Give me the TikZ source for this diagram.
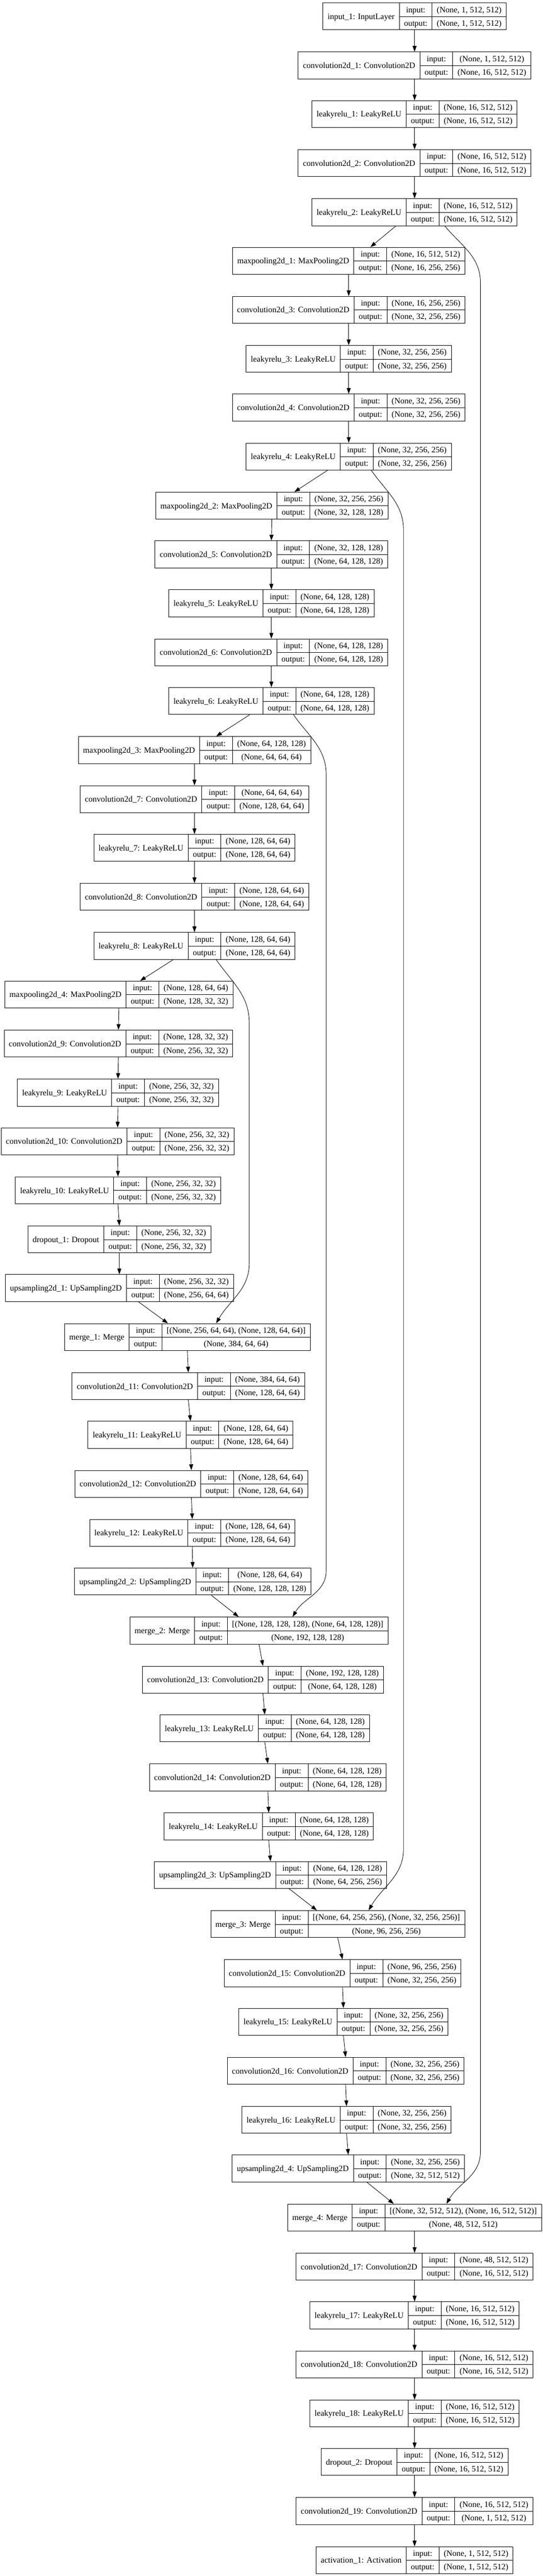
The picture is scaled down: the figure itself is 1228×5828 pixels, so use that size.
\documentclass[tikz,border=0pt]{standalone}
\usepackage{fontspec}
\setmainfont{Liberation Serif}
\usetikzlibrary{arrows.meta}
\setlength{\arrayrulewidth}{1pt}
\setlength{\tabcolsep}{10.67pt}

\begin{document}
\begin{tikzpicture}[x=1pt, y=-1pt,
    layer/.style={draw, line width=1pt, inner sep=0pt, anchor=north,
        font=\fontsize{18.67}{22}\selectfont},
    arr/.style={line width=1pt, -{Triangle[length=13pt,width=9pt]}}]
    \def\rs{\rule[-9pt]{0pt}{30.5pt}}
    \def\rec#1#2#3{\begin{tabular}{c|c|c}\raisebox{-15.5pt}[0pt][0pt]{#1}\rs & input: & #2\\ \cline{2-3}
        \rs & output: & #3\end{tabular}}
    \fill[white] (0,0) rectangle (1228,5828);
    % encoder
    \node[layer] (input1) at (938,6) {\rec{input\_1: InputLayer}{(None, 1, 512, 512)}{(None, 1, 512, 512)}};
    \node[layer] (conv1) at (938,117) {\rec{convolution2d\_1: Convolution2D}{(None, 1, 512, 512)}{(None, 16, 512, 512)}};
    \node[layer] (lrelu1) at (938,227) {\rec{leakyrelu\_1: LeakyReLU}{(None, 16, 512, 512)}{(None, 16, 512, 512)}};
    \node[layer] (conv2) at (938,338) {\rec{convolution2d\_2: Convolution2D}{(None, 16, 512, 512)}{(None, 16, 512, 512)}};
    \node[layer] (lrelu2) at (938,449) {\rec{leakyrelu\_2: LeakyReLU}{(None, 16, 512, 512)}{(None, 16, 512, 512)}};
    \node[layer] (pool1) at (789,559) {\rec{maxpooling2d\_1: MaxPooling2D}{(None, 16, 512, 512)}{(None, 16, 256, 256)}};
    \node[layer] (conv3) at (789,670) {\rec{convolution2d\_3: Convolution2D}{(None, 16, 256, 256)}{(None, 32, 256, 256)}};
    \node[layer] (lrelu3) at (789,781) {\rec{leakyrelu\_3: LeakyReLU}{(None, 32, 256, 256)}{(None, 32, 256, 256)}};
    \node[layer] (conv4) at (789,891) {\rec{convolution2d\_4: Convolution2D}{(None, 32, 256, 256)}{(None, 32, 256, 256)}};
    \node[layer] (lrelu4) at (789,1002) {\rec{leakyrelu\_4: LeakyReLU}{(None, 32, 256, 256)}{(None, 32, 256, 256)}};
    \node[layer] (pool2) at (615,1113) {\rec{maxpooling2d\_2: MaxPooling2D}{(None, 32, 256, 256)}{(None, 32, 128, 128)}};
    \node[layer] (conv5) at (614,1223) {\rec{convolution2d\_5: Convolution2D}{(None, 32, 128, 128)}{(None, 64, 128, 128)}};
    \node[layer] (lrelu5) at (614,1334) {\rec{leakyrelu\_5: LeakyReLU}{(None, 64, 128, 128)}{(None, 64, 128, 128)}};
    \node[layer] (conv6) at (614,1445) {\rec{convolution2d\_6: Convolution2D}{(None, 64, 128, 128)}{(None, 64, 128, 128)}};
    \node[layer] (lrelu6) at (614,1555) {\rec{leakyrelu\_6: LeakyReLU}{(None, 64, 128, 128)}{(None, 64, 128, 128)}};
    \node[layer] (pool3) at (440,1666) {\rec{maxpooling2d\_3: MaxPooling2D}{(None, 64, 128, 128)}{(None, 64, 64, 64)}};
    \node[layer] (conv7) at (440,1777) {\rec{convolution2d\_7: Convolution2D}{(None, 64, 64, 64)}{(None, 128, 64, 64)}};
    \node[layer] (lrelu7) at (440,1887) {\rec{leakyrelu\_7: LeakyReLU}{(None, 128, 64, 64)}{(None, 128, 64, 64)}};
    \node[layer] (conv8) at (440,1998) {\rec{convolution2d\_8: Convolution2D}{(None, 128, 64, 64)}{(None, 128, 64, 64)}};
    \node[layer] (lrelu8) at (440,2109) {\rec{leakyrelu\_8: LeakyReLU}{(None, 128, 64, 64)}{(None, 128, 64, 64)}};
    \node[layer] (pool4) at (269,2219) {\rec{maxpooling2d\_4: MaxPooling2D}{(None, 128, 64, 64)}{(None, 128, 32, 32)}};
    \node[layer] (conv9) at (268,2330) {\rec{convolution2d\_9: Convolution2D}{(None, 128, 32, 32)}{(None, 256, 32, 32)}};
    \node[layer] (lrelu9) at (267,2441) {\rec{leakyrelu\_9: LeakyReLU}{(None, 256, 32, 32)}{(None, 256, 32, 32)}};
    \node[layer] (conv10) at (266,2551) {\rec{convolution2d\_10: Convolution2D}{(None, 256, 32, 32)}{(None, 256, 32, 32)}};
    \node[layer] (lrelu10) at (267,2662) {\rec{leakyrelu\_10: LeakyReLU}{(None, 256, 32, 32)}{(None, 256, 32, 32)}};
    \node[layer] (drop1) at (270,2773) {\rec{dropout\_1: Dropout}{(None, 256, 32, 32)}{(None, 256, 32, 32)}};
    % decoder
    \node[layer] (up1) at (270,2883) {\rec{upsampling2d\_1: UpSampling2D}{(None, 256, 32, 32)}{(None, 256, 64, 64)}};
    \node[layer] (merge1) at (424,2994) {\rec{merge\_1: Merge}{[(None, 256, 64, 64), (None, 128, 64, 64)]}{(None, 384, 64, 64)}};
    \node[layer] (conv11) at (426,3105) {\rec{convolution2d\_11: Convolution2D}{(None, 384, 64, 64)}{(None, 128, 64, 64)}};
    \node[layer] (lrelu11) at (431,3215) {\rec{leakyrelu\_11: LeakyReLU}{(None, 128, 64, 64)}{(None, 128, 64, 64)}};
    \node[layer] (conv12) at (433,3326) {\rec{convolution2d\_12: Convolution2D}{(None, 128, 64, 64)}{(None, 128, 64, 64)}};
    \node[layer] (lrelu12) at (435,3437) {\rec{leakyrelu\_12: LeakyReLU}{(None, 128, 64, 64)}{(None, 128, 64, 64)}};
    \node[layer] (up2) at (436,3547) {\rec{upsampling2d\_2: UpSampling2D}{(None, 128, 64, 64)}{(None, 128, 128, 128)}};
    \node[layer] (merge2) at (586,3658) {\rec{merge\_2: Merge}{[(None, 128, 128, 128), (None, 64, 128, 128)]}{(None, 192, 128, 128)}};
    \node[layer] (conv13) at (595,3769) {\rec{convolution2d\_13: Convolution2D}{(None, 192, 128, 128)}{(None, 64, 128, 128)}};
    \node[layer] (lrelu13) at (599,3879) {\rec{leakyrelu\_13: LeakyReLU}{(None, 64, 128, 128)}{(None, 64, 128, 128)}};
    \node[layer] (conv14) at (606,3990) {\rec{convolution2d\_14: Convolution2D}{(None, 64, 128, 128)}{(None, 64, 128, 128)}};
    \node[layer] (lrelu14) at (608,4101) {\rec{leakyrelu\_14: LeakyReLU}{(None, 64, 128, 128)}{(None, 64, 128, 128)}};
    \node[layer] (up3) at (612,4211) {\rec{upsampling2d\_3: UpSampling2D}{(None, 64, 128, 128)}{(None, 64, 256, 256)}};
    \node[layer] (merge3) at (764,4322) {\rec{merge\_3: Merge}{[(None, 64, 256, 256), (None, 32, 256, 256)]}{(None, 96, 256, 256)}};
    \node[layer] (conv15) at (775,4433) {\rec{convolution2d\_15: Convolution2D}{(None, 96, 256, 256)}{(None, 32, 256, 256)}};
    \node[layer] (lrelu15) at (777,4543) {\rec{leakyrelu\_15: LeakyReLU}{(None, 32, 256, 256)}{(None, 32, 256, 256)}};
    \node[layer] (conv16) at (782,4654) {\rec{convolution2d\_16: Convolution2D}{(None, 32, 256, 256)}{(None, 32, 256, 256)}};
    \node[layer] (lrelu16) at (784,4765) {\rec{leakyrelu\_16: LeakyReLU}{(None, 32, 256, 256)}{(None, 32, 256, 256)}};
    \node[layer] (up4) at (788,4875) {\rec{upsampling2d\_4: UpSampling2D}{(None, 32, 256, 256)}{(None, 32, 512, 512)}};
    \node[layer] (merge4) at (938,4986) {\rec{merge\_4: Merge}{[(None, 32, 512, 512), (None, 16, 512, 512)]}{(None, 48, 512, 512)}};
    \node[layer] (conv17) at (938,5097) {\rec{convolution2d\_17: Convolution2D}{(None, 48, 512, 512)}{(None, 16, 512, 512)}};
    \node[layer] (lrelu17) at (938,5207) {\rec{leakyrelu\_17: LeakyReLU}{(None, 16, 512, 512)}{(None, 16, 512, 512)}};
    \node[layer] (conv18) at (938,5318) {\rec{convolution2d\_18: Convolution2D}{(None, 16, 512, 512)}{(None, 16, 512, 512)}};
    \node[layer] (lrelu18) at (938,5429) {\rec{leakyrelu\_18: LeakyReLU}{(None, 16, 512, 512)}{(None, 16, 512, 512)}};
    \node[layer] (drop2) at (938,5539) {\rec{dropout\_2: Dropout}{(None, 16, 512, 512)}{(None, 16, 512, 512)}};
    \node[layer] (conv19) at (938,5650) {\rec{convolution2d\_19: Convolution2D}{(None, 16, 512, 512)}{(None, 1, 512, 512)}};
    \node[layer] (act1) at (938,5761) {\rec{activation\_1: Activation}{(None, 1, 512, 512)}{(None, 1, 512, 512)}};
    % straight arrows
    \draw[arr] (input1.south) -- (conv1.north);
    \draw[arr] (conv1.south) -- (lrelu1.north);
    \draw[arr] (lrelu1.south) -- (conv2.north);
    \draw[arr] (conv2.south) -- (lrelu2.north);
    \draw[arr] (pool1.south) -- (conv3.north);
    \draw[arr] (conv3.south) -- (lrelu3.north);
    \draw[arr] (lrelu3.south) -- (conv4.north);
    \draw[arr] (conv4.south) -- (lrelu4.north);
    \draw[arr] (pool2.south) -- (conv5.north);
    \draw[arr] (conv5.south) -- (lrelu5.north);
    \draw[arr] (lrelu5.south) -- (conv6.north);
    \draw[arr] (conv6.south) -- (lrelu6.north);
    \draw[arr] (pool3.south) -- (conv7.north);
    \draw[arr] (conv7.south) -- (lrelu7.north);
    \draw[arr] (lrelu7.south) -- (conv8.north);
    \draw[arr] (conv8.south) -- (lrelu8.north);
    \draw[arr] (pool4.south) -- (conv9.north);
    \draw[arr] (conv9.south) -- (lrelu9.north);
    \draw[arr] (lrelu9.south) -- (conv10.north);
    \draw[arr] (conv10.south) -- (lrelu10.north);
    \draw[arr] (lrelu10.south) -- (drop1.north);
    \draw[arr] (drop1.south) -- (up1.north);
    \draw[arr] (merge1.south) -- (conv11.north);
    \draw[arr] (conv11.south) -- (lrelu11.north);
    \draw[arr] (lrelu11.south) -- (conv12.north);
    \draw[arr] (conv12.south) -- (lrelu12.north);
    \draw[arr] (lrelu12.south) -- (up2.north);
    \draw[arr] (merge2.south) -- (conv13.north);
    \draw[arr] (conv13.south) -- (lrelu13.north);
    \draw[arr] (lrelu13.south) -- (conv14.north);
    \draw[arr] (conv14.south) -- (lrelu14.north);
    \draw[arr] (lrelu14.south) -- (up3.north);
    \draw[arr] (merge3.south) -- (conv15.north);
    \draw[arr] (conv15.south) -- (lrelu15.north);
    \draw[arr] (lrelu15.south) -- (conv16.north);
    \draw[arr] (conv16.south) -- (lrelu16.north);
    \draw[arr] (lrelu16.south) -- (up4.north);
    \draw[arr] (merge4.south) -- (conv17.north);
    \draw[arr] (conv17.south) -- (lrelu17.north);
    \draw[arr] (lrelu17.south) -- (conv18.north);
    \draw[arr] (conv18.south) -- (lrelu18.north);
    \draw[arr] (lrelu18.south) -- (drop2.north);
    \draw[arr] (drop2.south) -- (conv19.north);
    \draw[arr] (conv19.south) -- (act1.north);
    % down and up steps
    \draw[arr] ([xshift=-42pt]lrelu2.south) -- ([xshift=49pt]pool1.north);
    \draw[arr] ([xshift=-48pt]lrelu4.south) -- ([xshift=51pt]pool2.north);
    \draw[arr] ([xshift=-49pt]lrelu6.south) -- ([xshift=49pt]pool3.north);
    \draw[arr] ([xshift=-48pt]lrelu8.south) -- ([xshift=48pt]pool4.north);
    \draw[arr] ([xshift=43pt]up1.south) -- ([xshift=-44pt]merge1.north);
    \draw[arr] ([xshift=42pt]up2.south) -- ([xshift=-46pt]merge2.north);
    \draw[arr] ([xshift=42pt]up3.south) -- ([xshift=-47pt]merge3.north);
    \draw[arr] ([xshift=42pt]up4.south) -- ([xshift=-47pt]merge4.north);
    % skip connections
    \draw[arr] ([xshift=68pt]lrelu2.south) to[out=-50,in=90] (1087,640) -- (1087,4868) to[out=-90,in=60] ([xshift=72pt]merge4.north);
    \draw[arr] ([xshift=51pt]lrelu4.south) to[out=-55,in=90] (913,1200) -- (913,4182) to[out=-90,in=60] ([xshift=70pt]merge3.north);
    \draw[arr] ([xshift=50pt]lrelu6.south) to[out=-55,in=90] (738,1753) -- (738,3553) to[out=-90,in=60] ([xshift=76pt]merge2.north);
    \draw[arr] ([xshift=49pt]lrelu8.south) to[out=-55,in=90] (564,2315) -- (564,2857) to[out=-90,in=60] ([xshift=65pt]merge1.north);
\end{tikzpicture}
\end{document}
